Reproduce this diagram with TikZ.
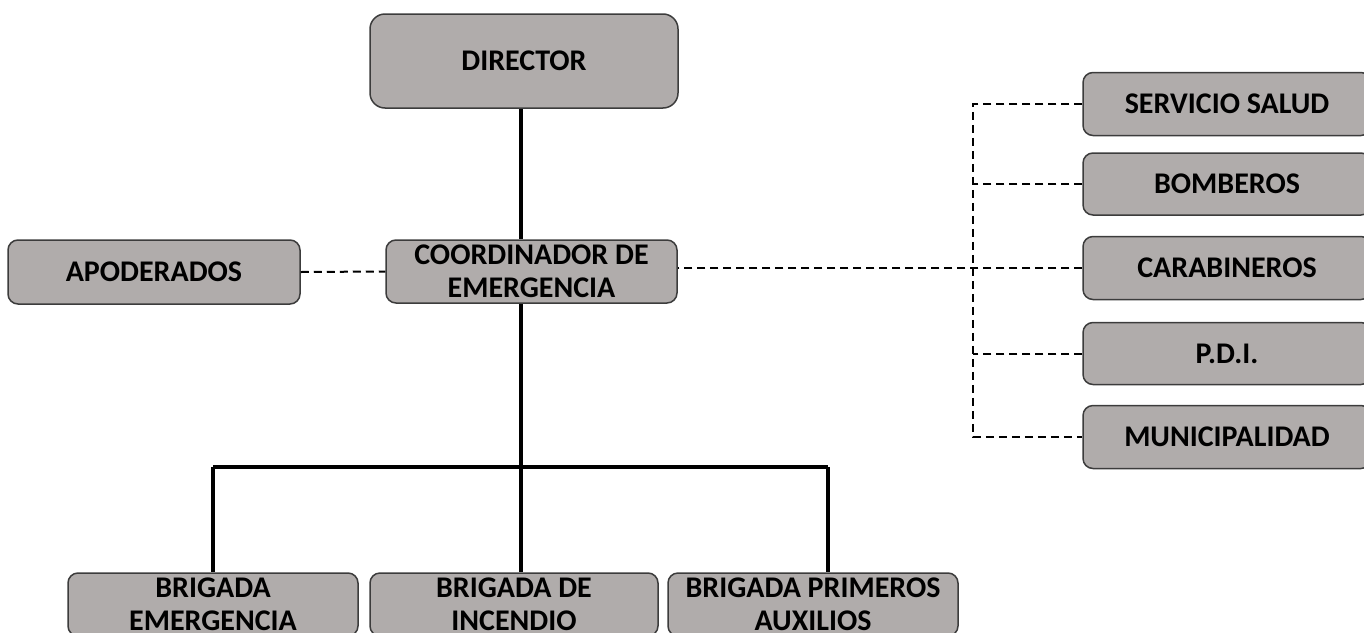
\documentclass[tikz,border=0pt]{standalone}
\usepackage{fontspec}
\setmainfont{Carlito}
\definecolor{boxfill}{RGB}{176,172,171}
\definecolor{boxline}{RGB}{60,60,60}
\tikzset{
  orgbox/.style={draw=boxline, line width=1.5pt, fill=boxfill, rounded corners=10pt,
    minimum width=290pt, minimum height=63pt, inner sep=0pt, align=center,
    font=\fontsize{30}{33}\selectfont\bfseries},
  solidlink/.style={line width=4pt, black},
  dashlink/.style={line width=2pt, black, dash pattern=on 8pt off 5pt},
}
\begin{document}
\begin{tikzpicture}[x=1pt,y=-1pt]
\useasboundingbox (0,0) rectangle (1364,632);
\clip (0,0) rectangle (1364,632);
\node[orgbox, minimum width=308pt, minimum height=94pt, rounded corners=15pt] (dir) at (524,61) {DIRECTOR};
\node[orgbox, minimum width=291pt] (coord) at (531.5,271.5) {COORDINADOR DE\\EMERGENCIA};
\node[orgbox, minimum width=292pt, minimum height=64pt] (apod) at (154,272) {APODERADOS};
\node[orgbox, minimum width=288pt] (ss) at (1227,104) {SERVICIO SALUD};
\node[orgbox, minimum width=288pt, minimum height=62pt] (bom) at (1227,184) {BOMBEROS};
\node[orgbox, minimum width=288pt] (cara) at (1227,268) {CARABINEROS};
\node[orgbox, minimum width=288pt, minimum height=62pt] (pdi) at (1227,353.5) {P.D.I.};
\node[orgbox, minimum width=288pt] (muni) at (1227,437) {MUNICIPALIDAD};
\node[orgbox] (b1) at (213,604.5) {BRIGADA\\EMERGENCIA};
\node[orgbox, minimum width=288pt] (b2) at (514,604.5) {BRIGADA DE\\INCENDIO};
\node[orgbox] (b3) at (813,604.5) {BRIGADA PRIMEROS\\AUXILIOS};
\coordinate (trunk) at (521,467);
\coordinate (hl) at (213,467);
\coordinate (hr) at (828,467);
\coordinate (bus) at (973,300);
\draw[solidlink] (dir.south -| trunk) -- (coord.north -| trunk);
\draw[solidlink] (coord.south -| trunk) -- (trunk);
\draw[solidlink] (hl) -- (hr);
\draw[solidlink] (hl) -- (hl |- b1.north);
\draw[solidlink] (trunk) -- (trunk |- b2.north);
\draw[solidlink] (hr) -- (hr |- b3.north);
\draw[dashlink] (apod.east) -- (coord.west);
\draw[dashlink] (cara.west) -- (cara.west -| coord.east);
\draw[dashlink] (ss.west) -- (ss.west -| bus) -- (muni.west -| bus) -- (muni.west);
\draw[dashlink] (bom.west) -- (bom.west -| bus);
\draw[dashlink] (pdi.west) -- (pdi.west -| bus);
\end{tikzpicture}
\end{document}
